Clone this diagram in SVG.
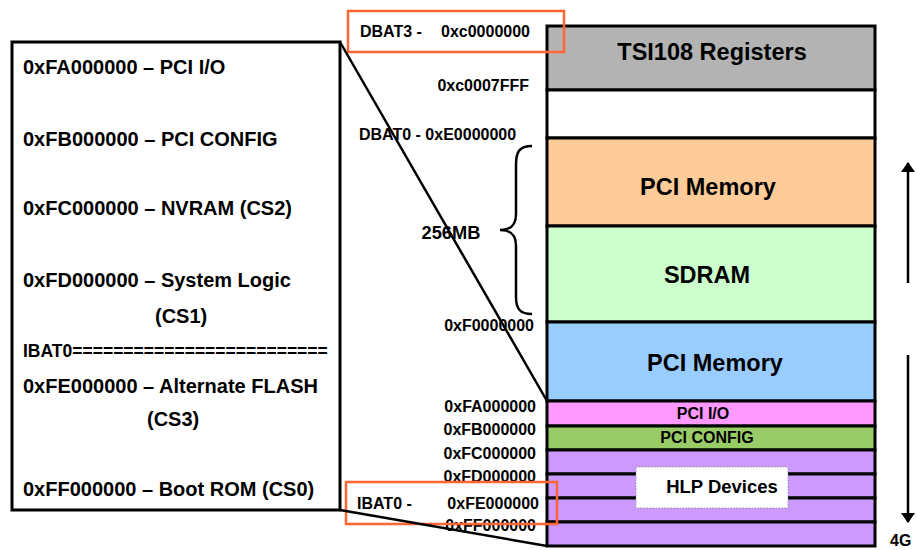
<svg xmlns="http://www.w3.org/2000/svg" width="917" height="550" viewBox="0 0 917 550">
<style>
  text { font-family: "Liberation Sans", Arial, sans-serif; font-weight: bold; fill: #000; }
  .band { stroke: #000; stroke-width: 3; }
  .big { font-size: 23.5px; text-anchor: middle; }
  .lbl { font-size: 16px; }
  .end { text-anchor: end; }
  .left { font-size: 20px; }
  .hl { fill: none; stroke: #FF6633; stroke-width: 2.5; }
  .conn { fill: none; stroke: #000; stroke-width: 2.5; }
</style>
<defs>
  <marker id="ah" viewBox="0 0 10 14" refX="9" refY="7" markerWidth="10" markerHeight="14" orient="auto" markerUnits="userSpaceOnUse">
    <path d="M0,0 L10,7 L0,14 z" fill="#000"/>
  </marker>
</defs>
<rect width="917" height="550" fill="#fff"/>

<g id="memory-map">
  <g id="tsi108"><rect class="band" x="547" y="26" width="328" height="64" fill="#B3B3B3"/><text class="big" x="712" y="60">TSI108 Registers</text></g>
  <g id="gap"><rect class="band" x="547" y="90" width="328" height="48" fill="#FFFFFF"/></g>
  <g id="pci-mem-1"><rect class="band" x="547" y="138" width="328" height="88" fill="#FFCC99"/><text class="big" x="708" y="195">PCI Memory</text></g>
  <g id="sdram"><rect class="band" x="547" y="226" width="328" height="96" fill="#CCFFCC"/><text class="big" x="707" y="283">SDRAM</text></g>
  <g id="pci-mem-2"><rect class="band" x="547" y="322" width="328" height="79" fill="#99CCFF"/><text class="big" x="715" y="371">PCI Memory</text></g>
  <g id="pci-io"><rect class="band" x="547" y="401" width="328" height="25" fill="#FF99FF"/><text class="lbl" x="703" y="419" text-anchor="middle">PCI I/O</text></g>
  <g id="pci-config"><rect class="band" x="547" y="426" width="328" height="24" fill="#99CC66"/><text class="lbl" x="707" y="443" text-anchor="middle">PCI CONFIG</text></g>
  <g id="hlp-1"><rect class="band" x="547" y="450" width="328" height="24" fill="#CC99FF"/></g>
  <g id="hlp-2"><rect class="band" x="547" y="474" width="328" height="24" fill="#CC99FF"/></g>
  <g id="hlp-3"><rect class="band" x="547" y="498" width="328" height="24" fill="#CC99FF"/></g>
  <g id="hlp-4"><rect class="band" x="547" y="522" width="328" height="24" fill="#CC99FF"/></g>
  <g id="hlp-label"><rect x="636" y="467" width="152" height="41" fill="#FFFFFF" stroke="#888" stroke-width="0.8" stroke-dasharray="1.5,1.5"/><text x="722" y="493" font-size="18.5" text-anchor="middle">HLP Devices</text></g>
</g>

<g id="addr-labels">
  <text class="lbl" x="360" y="37">DBAT3 -</text>
  <text class="lbl" x="441" y="37">0xc0000000</text>
  <text class="lbl" x="529" y="91" text-anchor="end">0xc0007FFF</text>
  <text class="lbl" x="359" y="140">DBAT0 - 0xE0000000</text>
  <text x="451" y="239" font-size="18.3" text-anchor="middle">256MB</text>
  <text class="lbl end" x="534" y="331">0xF0000000</text>
  <text class="lbl end" x="536" y="412">0xFA000000</text>
  <text class="lbl end" x="536" y="435">0xFB000000</text>
  <text class="lbl end" x="536" y="459">0xFC000000</text>
  <text class="lbl end" x="536" y="482">0xFD000000</text>
  <text class="lbl" x="357" y="509">IBAT0 -</text>
  <text class="lbl end" x="539" y="509">0xFE000000</text>
  <text class="lbl end" x="536" y="531">0xFF000000</text>
  <text x="890" y="546" font-size="16">4G</text>
</g>

<g id="hlp-detail">
  <rect x="12" y="42" width="328" height="468" fill="none" stroke="#000" stroke-width="3"/>
  <text class="left" x="23" y="74">0xFA000000 – PCI I/O</text>
  <text class="left" x="23" y="146">0xFB000000 – PCI CONFIG</text>
  <text class="left" x="23" y="215">0xFC000000 – NVRAM (CS2)</text>
  <text class="left" x="23" y="287">0xFD000000 – System Logic</text>
  <text class="left" x="155" y="323">(CS1)</text>
  <text x="23" y="357" font-size="17.5">IBAT0=========================</text>
  <text class="left" x="23" y="393">0xFE000000 – Alternate FLASH</text>
  <text class="left" x="147" y="426">(CS3)</text>
  <text class="left" x="23" y="496">0xFF000000 – Boot ROM (CS0)</text>
</g>

<g id="highlights">
  <rect class="hl" x="348" y="11" width="216" height="41"/>
  <rect class="hl" x="346" y="482" width="211" height="42"/>
</g>

<g id="connectors">
  <line class="conn" x1="340" y1="42" x2="547" y2="401"/>
  <line class="conn" x1="340" y1="510" x2="547" y2="546"/>
  <path class="conn" stroke-width="2" d="M532,146 C519,146 516,152 516,165 L516,214 C516,225 511,230 500,230 C511,230 516,235 516,246 L516,297 C516,309 520,314 532,314"/>
  <line class="conn" stroke-width="3" x1="908" y1="283" x2="908" y2="163" marker-end="url(#ah)"/>
  <line class="conn" stroke-width="3" x1="908" y1="355" x2="908" y2="522" marker-end="url(#ah)"/>
</g>
</svg>
